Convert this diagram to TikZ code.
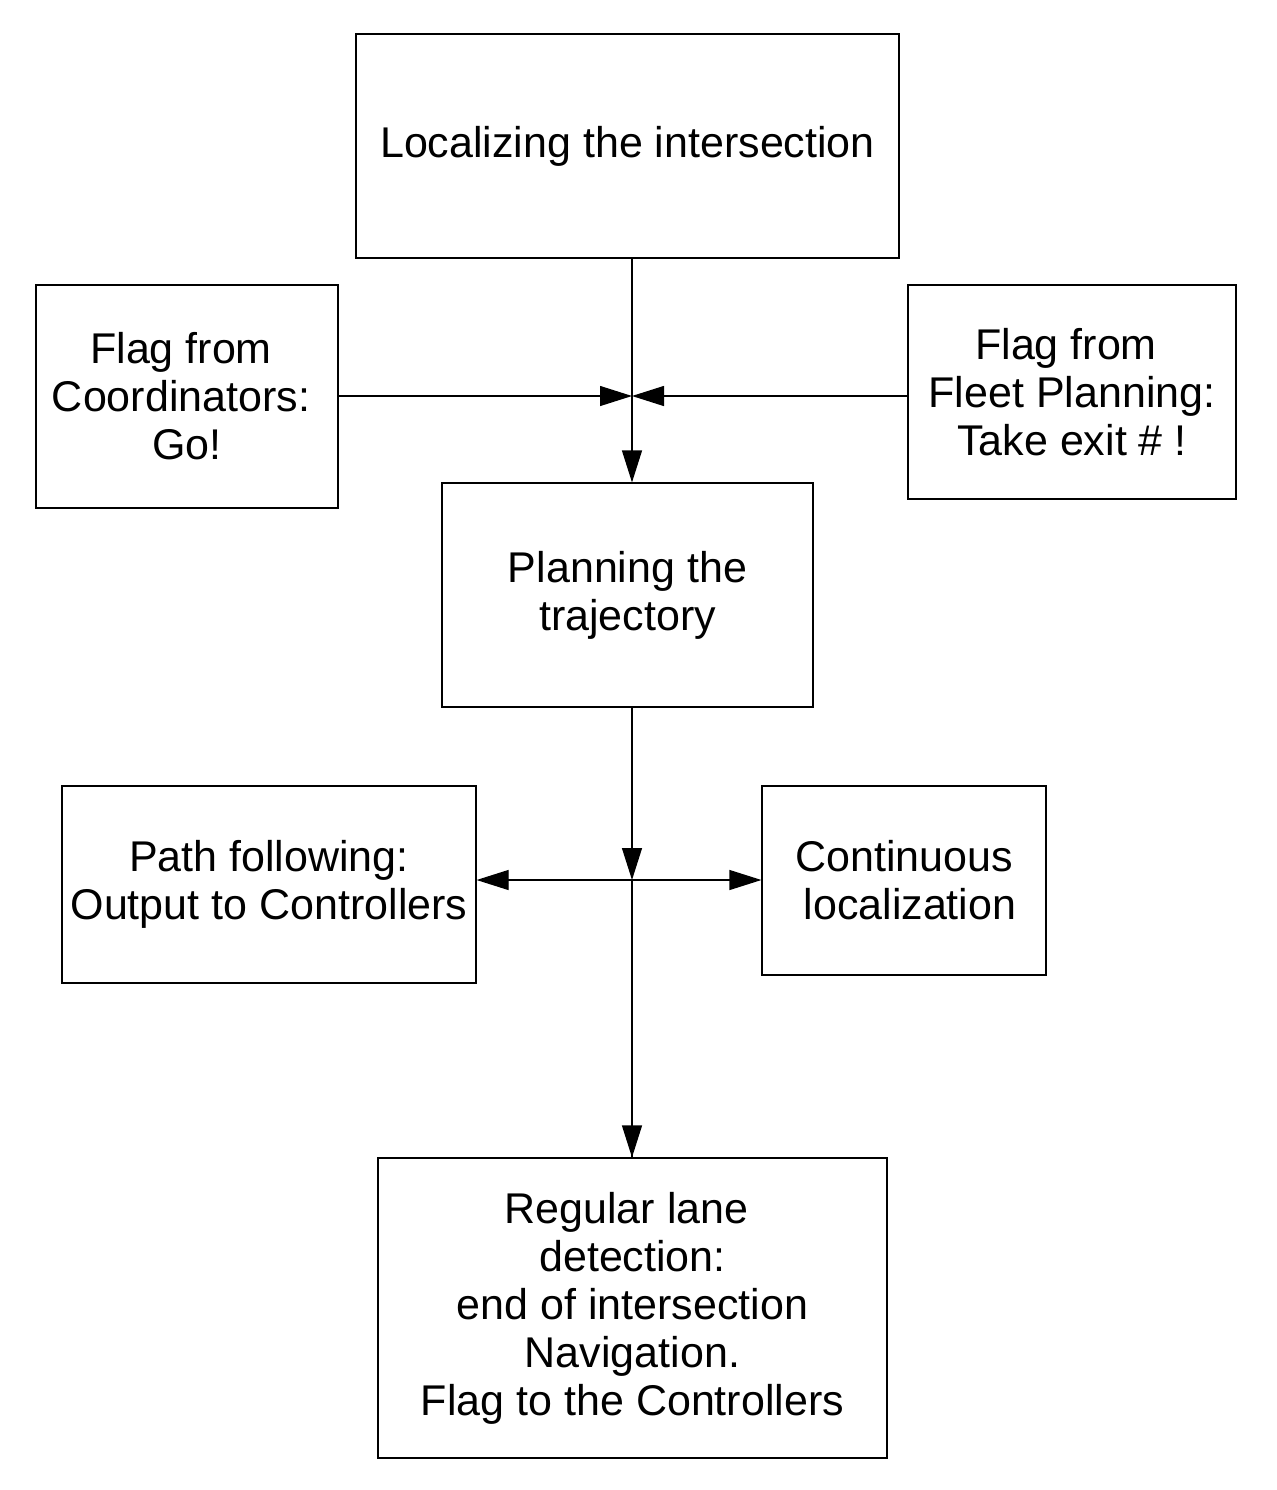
\documentclass[tikz,border=0pt]{standalone}
\usepackage{fontspec}
\setmainfont{Liberation Sans}
\usetikzlibrary{arrows.meta}
\newcommand\boxfont{\fontsize{21.5pt}{24pt}\selectfont}
\newcommand\tailsp{\makebox[0.278em]{}}
\begin{document}
\begin{tikzpicture}
  [x=0.5pt,y=-0.5pt,line width=0.6pt,every node/.style={draw,rectangle,inner sep=0pt,align=center,font=\boxfont}]
  \tikzstyle{arrow} = [-{Triangle[length=16pt,width=10pt]}]
  \useasboundingbox (0,0) rectangle (1276,1490);
  \node[minimum width=271.5pt,minimum height=112pt] (loc) at (627.5,146) {Localizing the intersection};
  \node[minimum width=151pt,minimum height=111.5pt] (coord) at (187,396.5) {Flag from\tailsp\\Coordinators:\tailsp\\Go!};
  \node[minimum width=164pt,minimum height=107pt] (fleet) at (1072,392) {Flag from\tailsp\\Fleet Planning:\\Take exit \# !};
  \node[minimum width=185.5pt,minimum height=112pt] (plan) at (627.5,595) {Planning the\\trajectory};
  \node[minimum width=207pt,minimum height=98.5pt] (path) at (269,884.5) {Path following:\\Output to Controllers};
  \node[minimum width=142pt,minimum height=94.5pt] (cont) at (904,880.5) {Continuous\\\tailsp localization};
  \node[minimum width=254.5pt,minimum height=150pt] (reg) at (632.5,1308) {Regular lane\tailsp\\detection:\\end of intersection\\Navigation.\\Flag to the Controllers};
  \coordinate (j1) at (632,396);
  \coordinate (j2) at (632,880);
  \draw (loc.south -| j1) -- (j1);
  \draw (j2) -- (j2 |- reg.north);
  \foreach \source/\dest in {coord.east |- j1/j1, fleet.west |- j1/j1, j1/plan.north -| j1, plan.south -| j2/j2, j2/path.east |- j2, j2/cont.west |- j2, j2/reg.north -| j2}
   \draw[arrow] (\source) -- (\dest);
\end{tikzpicture}
\end{document}
